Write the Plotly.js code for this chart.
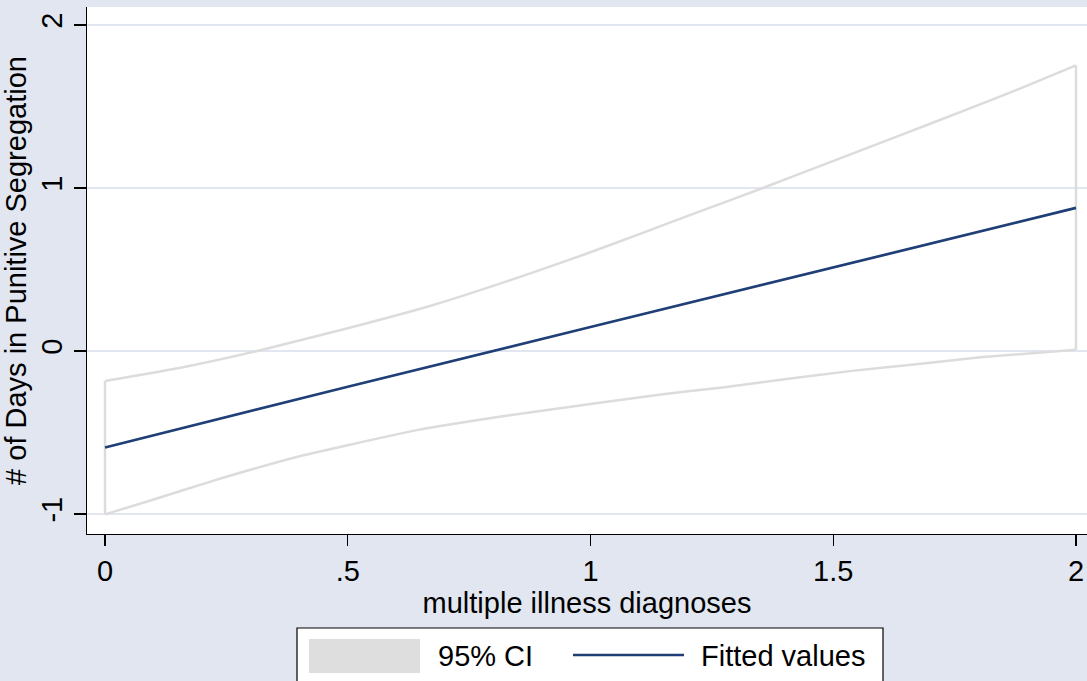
<!DOCTYPE html>
<html>
<head>
<meta charset="utf-8">
<script src="https://cdn.plot.ly/plotly-3.0.1.min.js"></script>
<style>html,body{margin:0;padding:0;background:#e1e6f0;}#chart{width:1087px;height:681px;}</style>
</head>
<body>
<div id="chart"></div>
<script>
// Data
const ciX      = [0, 0.158, 0.316, 0.5, 0.671, 0.855, 0.987, 1.105, 1.224, 1.355, 1.487, 1.632, 1.776, 1.882, 2];
const ciUpper  = [-0.184, -0.101, 0.002, 0.140, 0.278, 0.455, 0.592, 0.722, 0.855, 1.0, 1.151, 1.317, 1.482, 1.607, 1.752];
const ciLowerX = [0, 0.092, 0.224, 0.395, 0.5, 0.645, 0.816, 1.0, 1.145, 1.276, 1.408, 1.539, 1.671, 1.803, 2];
const ciLower  = [-1.002, -0.919, -0.795, -0.650, -0.578, -0.484, -0.402, -0.325, -0.267, -0.222, -0.170, -0.122, -0.081, -0.039, 0.008];
const fitX     = [0, 0.5, 1, 1.5, 2];
const fitY     = [-0.592, -0.219, 0.147, 0.513, 0.878];
const xTickVals = [0, 0.5, 1, 1.5, 2];
const xTickText = ["0", ".5", "1", "1.5", "2"];
const yTickVals = [-1, 0, 1, 2];
const yTickText = ["-1", "0", "1", "2"];
const legendLabels = ["95% CI", "Fitted values"];
const xTitle = "multiple illness diagnoses";
const yTitle = "# of Days in Punitive Segregation";

const BG = "#e1e6f0";
const CI_COLOR = "#dcdcdc";
const FIT_COLOR = "#1f3f76";
const FONT = "Liberation Sans, Arial, Helvetica, sans-serif";

const last = a => a[a.length - 1];
const ciLine = {color: CI_COLOR, width: 2.5};
const ciCurve = {color: CI_COLOR, width: 2.5, shape: "spline", smoothing: 0.5};

const traces = [
  {x: ciX, y: ciUpper, type: "scatter", mode: "lines", name: legendLabels[0],
   line: ciCurve, hoverinfo: "skip", showlegend: false},
  {x: ciLowerX, y: ciLower, type: "scatter", mode: "lines", name: legendLabels[0],
   line: ciCurve, hoverinfo: "skip", showlegend: false},
  // vertical closing edges of the band
  {x: [ciX[0], ciLowerX[0]], y: [ciUpper[0], ciLower[0]], type: "scatter", mode: "lines",
   line: ciLine, hoverinfo: "skip", showlegend: false},
  {x: [last(ciX), last(ciLowerX)], y: [last(ciUpper), last(ciLower)], type: "scatter", mode: "lines",
   line: ciLine, hoverinfo: "skip", showlegend: false},
  {x: fitX, y: fitY, type: "scatter", mode: "lines", name: legendLabels[1],
   line: {color: FIT_COLOR, width: 2.7}, showlegend: false}
];

// pixel -> paper helpers (plot area: x 87..1087, y 7..534)
const L = 87, T = 7, W = 1000, H = 527;
const px = v => (v - L) / W;
const py = v => (T + H - v) / H;

const layout = {
  width: 1087, height: 681,
  paper_bgcolor: BG, plot_bgcolor: "#ffffff",
  margin: {l: L, r: 0, t: T, b: 681 - T - H, pad: 0},
  font: {family: FONT, size: 29, color: "#000"},
  showlegend: false,
  xaxis: {
    range: [-0.0371, 2.0227], tickvals: xTickVals, ticktext: xTickText,
    ticks: "outside", ticklen: 11, tickwidth: 1.2, tickcolor: "#000",
    showline: true, linecolor: "#000", linewidth: 1.2, mirror: false,
    showgrid: false, zeroline: false,
    tickfont: {family: FONT, size: 29, color: "#000"},
    title: {text: xTitle, font: {family: FONT, size: 29, color: "#000"}, standoff: 2}
  },
  yaxis: {
    range: [-1.1227, 2.1104], tickvals: yTickVals, ticktext: yTickText,
    ticks: "outside", ticklen: 12, tickwidth: 1.2, tickcolor: "#000", tickangle: -90,
    showline: true, linecolor: "#000", linewidth: 1.2, mirror: false,
    showgrid: true, gridcolor: BG, gridwidth: 2.5, zeroline: false,
    tickfont: {family: FONT, size: 29, color: "#000"},
    title: {text: yTitle, font: {family: FONT, size: 29, color: "#000"}, standoff: 1}
  },
  shapes: [
    {type: "rect", xref: "paper", yref: "paper", x0: px(297), x1: px(883), y0: py(628), y1: py(700),
     fillcolor: "#ffffff", line: {color: "#000", width: 1.2}, layer: "above"},
    {type: "rect", xref: "paper", yref: "paper", x0: px(309), x1: px(420), y0: py(639), y1: py(673),
     fillcolor: "#dedede", line: {width: 0}, layer: "above"},
    {type: "line", xref: "paper", yref: "paper", x0: px(573), x1: px(684), y0: py(655), y1: py(655),
     line: {color: FIT_COLOR, width: 2.5}, layer: "above"}
  ],
  annotations: [
    {xref: "paper", yref: "paper", x: px(436), y: py(656), xanchor: "left", yanchor: "middle",
     text: legendLabels[0], showarrow: false, font: {family: FONT, size: 29, color: "#000"}},
    {xref: "paper", yref: "paper", x: px(699), y: py(656), xanchor: "left", yanchor: "middle",
     text: legendLabels[1], showarrow: false, font: {family: FONT, size: 29, color: "#000"}}
  ]
};

Plotly.newPlot("chart", traces, layout, {staticPlot: true, displayModeBar: false});
</script>
</body>
</html>
